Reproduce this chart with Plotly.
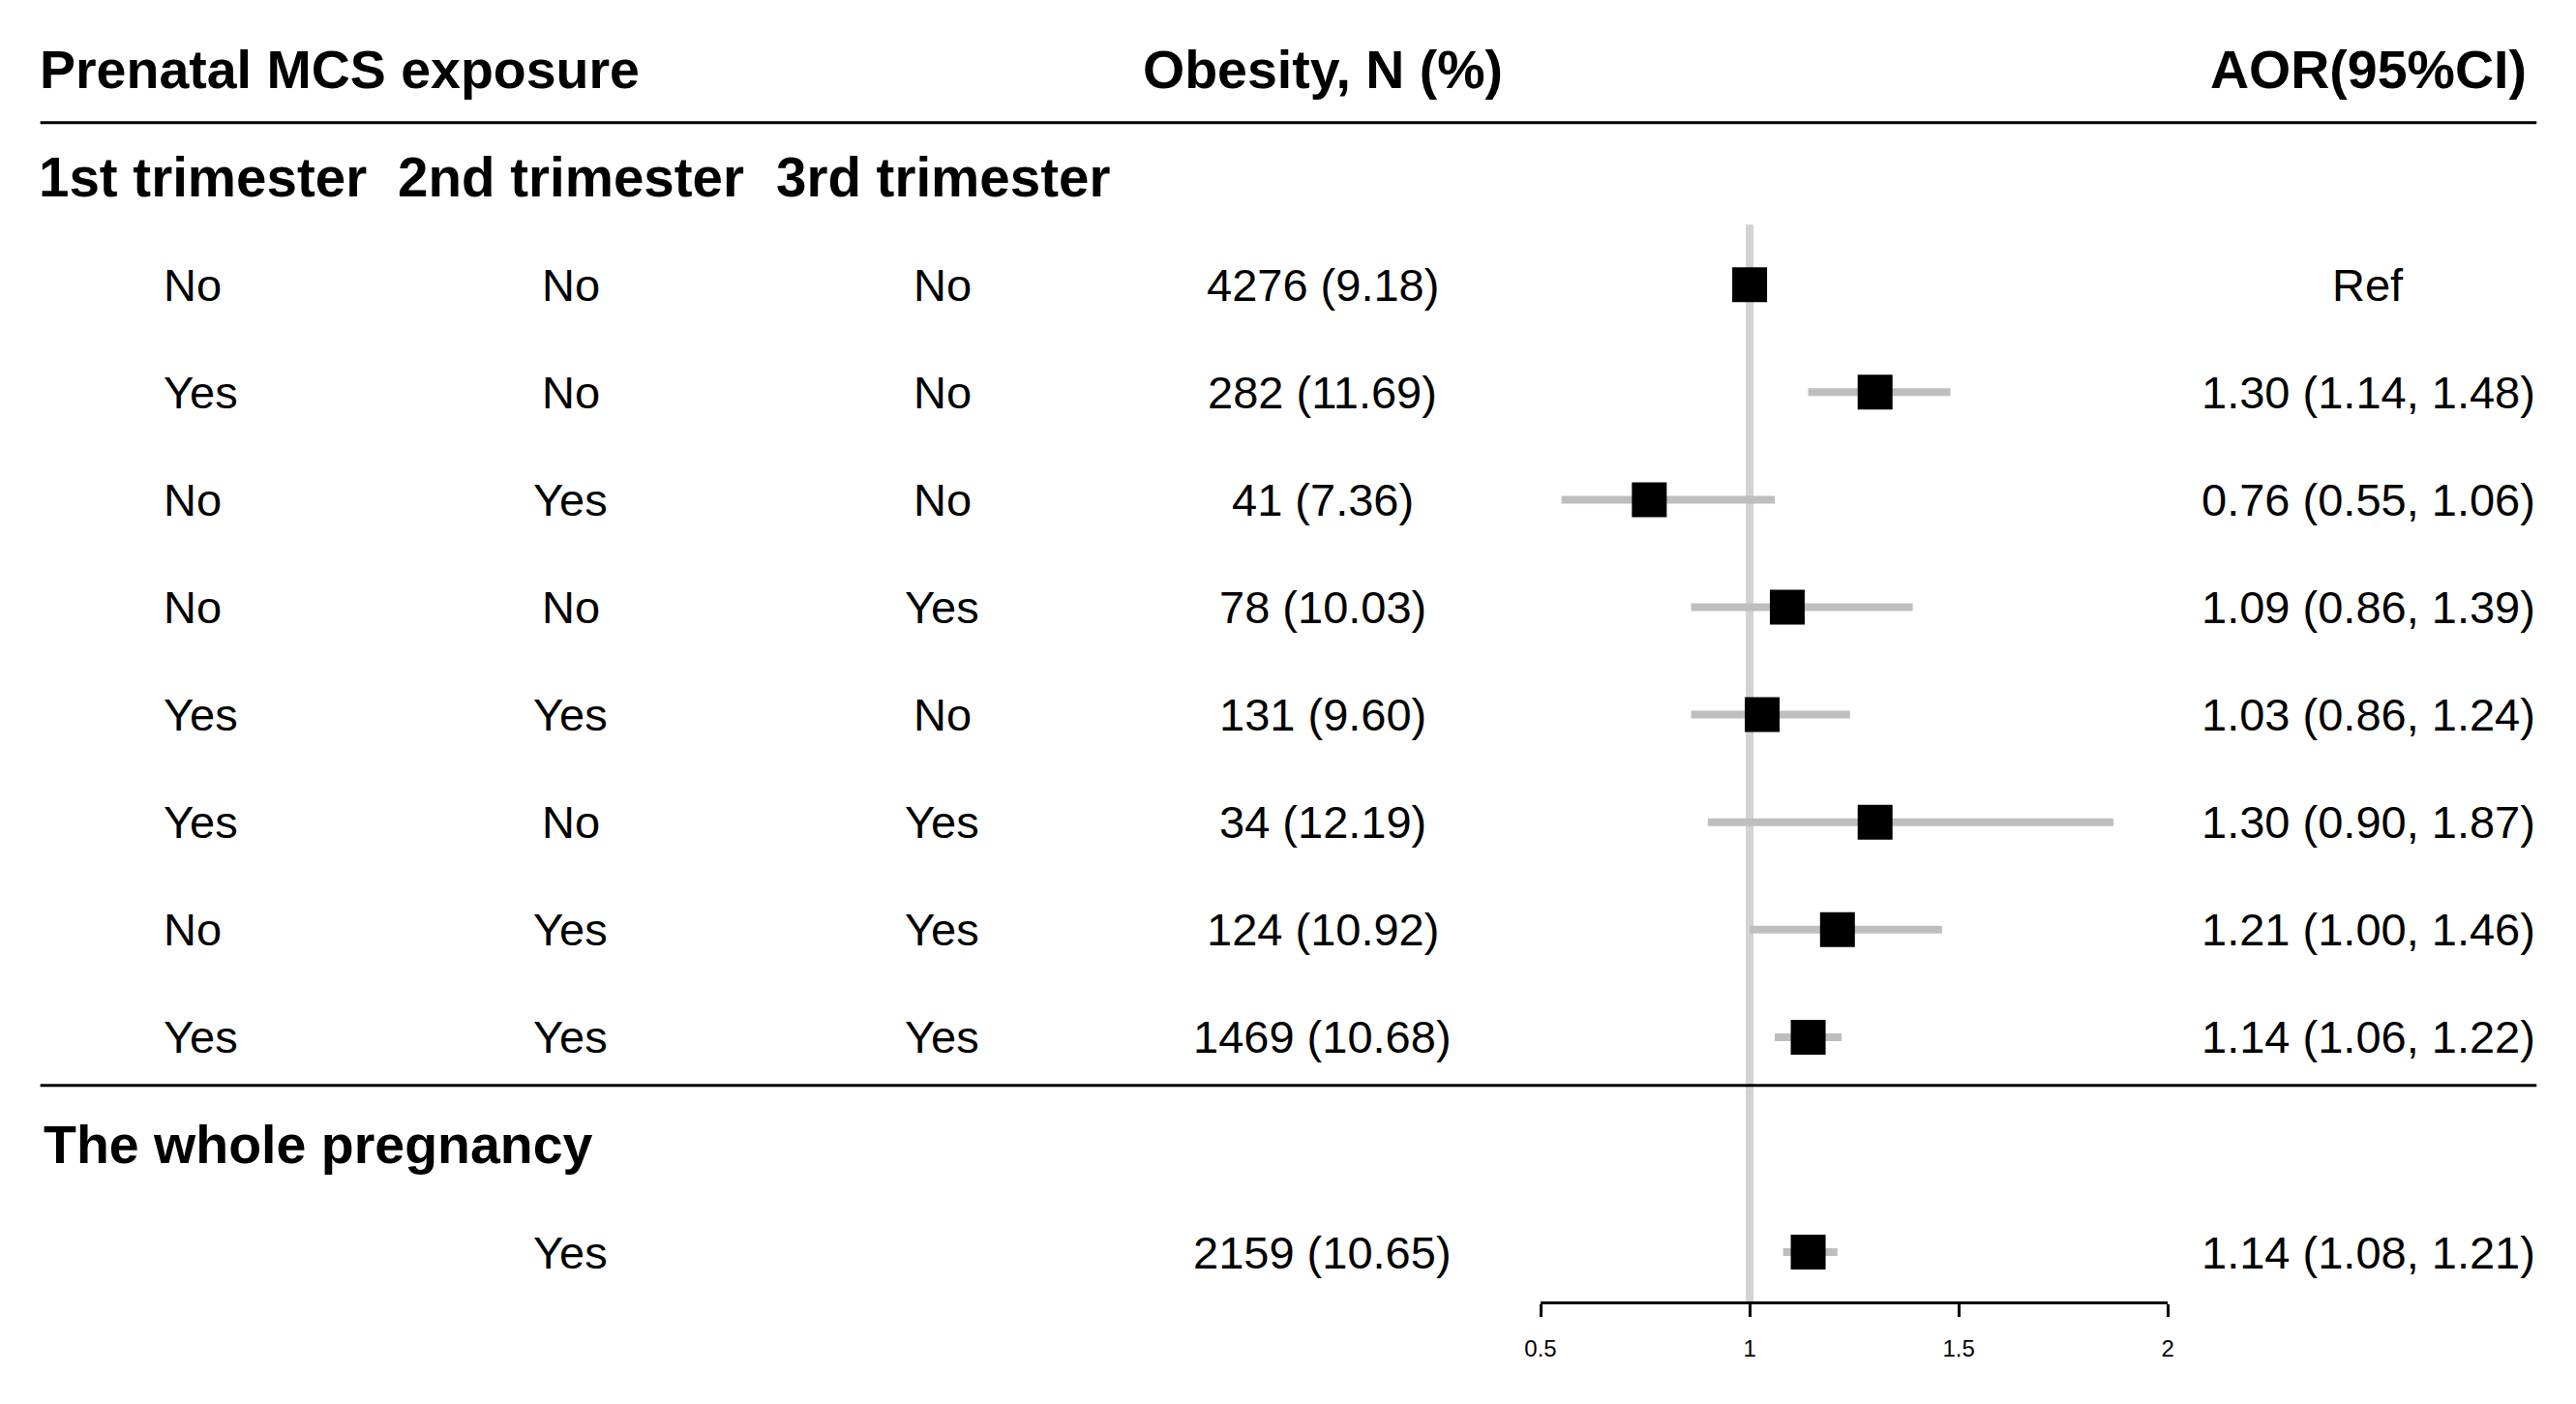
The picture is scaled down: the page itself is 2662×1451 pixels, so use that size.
import plotly.graph_objects as go

# ---------------- data ----------------
tri1 = ["No", "Yes", "No", "No", "Yes", "Yes", "No", "Yes"]
tri2 = ["No", "No", "Yes", "No", "Yes", "No", "Yes", "Yes"]
tri3 = ["No", "No", "No", "Yes", "No", "Yes", "Yes", "Yes"]
obesity = ["4276 (9.18)", "282 (11.69)", "41 (7.36)", "78 (10.03)",
           "131 (9.60)", "34 (12.19)", "124 (10.92)", "1469 (10.68)"]
aor = [1.00, 1.30, 0.76, 1.09, 1.03, 1.30, 1.21, 1.14]
aor_lo = [1.00, 1.14, 0.55, 0.86, 0.86, 0.90, 1.00, 1.06]
aor_hi = [1.00, 1.48, 1.06, 1.39, 1.24, 1.87, 1.46, 1.22]
is_ref = [True, False, False, False, False, False, False, False]

whole_label = "Yes"
whole_obesity = "2159 (10.65)"
whole_aor = 1.14
whole_lo = 1.08
whole_hi = 1.21

tick_vals = [0.5, 1, 1.5, 2]
tick_text = ["0.5", "1", "1.5", "2"]

headers = ["Prenatal MCS exposure", "Obesity, N (%)", "AOR(95%CI)"]
subheaders = ["1st trimester", "2nd trimester", "3rd trimester"]
group2_title = "The whole pregnancy"

# ---------------- layout constants ----------------
W, H = 2662, 1451
BODY_MARGIN = 8               # default <body> margin of the html page
FW, FH = W - 2 * BODY_MARGIN, H - 2 * BODY_MARGIN
FONT = "Liberation Sans, Arial, sans-serif"
BODY = 47
BOLD = 55.5
BOLD_SUB = 56.5


def px(x):
    """target page pixel -> paper fraction (small horizontal calibration)"""
    xc = 1.0094 * x - 16.6
    return (xc - BODY_MARGIN) / FW


# row grid (page pixels): header row centred at y=72, pitch 111.1
pitch = 111.1
y0 = 72.0
axis_px = 1345.0


def row_of(ypage):
    return (ypage - y0) / pitch


first_row = 2
rows = [first_row + i for i in range(len(aor))]
whole_title_row = first_row + len(aor)
whole_row = whole_title_row + 1

# columns (page pixels)
col1_left = 166
col2_c = 589
col3_c = 973
col4_c = 1366
col5_c = 2446

fig = go.Figure()

est_x = list(aor) + [whole_aor]
est_y = rows + [whole_row]
err_plus = [0 if r else h - a for a, h, r in zip(aor, aor_hi, is_ref)] + [whole_hi - whole_aor]
err_minus = [0 if r else a - l for a, l, r in zip(aor, aor_lo, is_ref)] + [whole_aor - whole_lo]

fig.add_trace(go.Scatter(
    x=est_x, y=est_y, mode="markers",
    marker=dict(symbol="square", size=36, color="black", line=dict(width=0)),
    error_x=dict(type="data", symmetric=False, array=err_plus, arrayminus=err_minus,
                 color="#bebebe", thickness=8, width=0),
    showlegend=False, hoverinfo="skip", cliponaxis=False,
))

annotations = []


def txt(x, y, s, size=BODY, bold=False, anchor="center"):
    annotations.append(dict(
        x=px(x), y=y, xref="paper", yref="y", text=("<b>%s</b>" % s) if bold else s,
        showarrow=False, xanchor=anchor, yanchor="middle",
        font=dict(family=FONT, size=size, color="black"),
    ))


txt(38, 0, headers[0], BOLD, True, "left")
txt(col4_c, 0, headers[1], BOLD, True, "center")
txt(col5_c, 0, headers[2], BOLD, True, "center")
txt(37, 1, subheaders[0], BOLD_SUB, True, "left")
txt(408, 1, subheaders[1], BOLD_SUB, True, "left")
txt(799, 1, subheaders[2], BOLD_SUB, True, "left")

for i, r in enumerate(rows):
    txt(col1_left, r, tri1[i], BODY, False, "left")
    txt(col2_c, r, tri2[i], BODY, False, "center")
    txt(col3_c, r, tri3[i], BODY, False, "center")
    txt(col4_c, r, obesity[i], BODY, False, "center")
    lab = "Ref" if is_ref[i] else "%.2f (%.2f, %.2f)" % (aor[i], aor_lo[i], aor_hi[i])
    txt(col5_c, r, lab, BODY, False, "center")

txt(42, whole_title_row, group2_title, BOLD, True, "left")
txt(col2_c, whole_row, whole_label, BODY, False, "center")
txt(col4_c, whole_row, whole_obesity, BODY, False, "center")
txt(col5_c, whole_row, "%.2f (%.2f, %.2f)" % (whole_aor, whole_lo, whole_hi), BODY, False, "center")

y_top = row_of(BODY_MARGIN)
y_bot = row_of(axis_px)

shapes = [
    dict(type="line", xref="paper", yref="y", x0=px(41), x1=px(2620),
         y0=row_of(126.7), y1=row_of(126.7), line=dict(color="black", width=3)),
    dict(type="line", xref="paper", yref="y", x0=px(41), x1=px(2620),
         y0=row_of(1121.7), y1=row_of(1121.7), line=dict(color="black", width=3)),
    dict(type="line", xref="x", yref="y", x0=1, x1=1,
         y0=row_of(232), y1=y_bot, layer="below",
         line=dict(color="#d3d3d3", width=8)),
]

fig.update_layout(
    width=FW, height=FH,
    margin=dict(l=0, r=0, t=0, b=0),
    paper_bgcolor="white", plot_bgcolor="rgba(0,0,0,0)",
    showlegend=False,
    annotations=annotations,
    shapes=shapes,
    xaxis=dict(
        domain=[px(1591), px(2239)], range=[0.5, 2],
        tickvals=tick_vals, ticktext=tick_text,
        showline=True, linecolor="black", linewidth=3,
        ticks="outside", ticklen=13, tickwidth=3, tickcolor="black",
        tickfont=dict(family=FONT, size=24, color="black"),
        ticklabelstandoff=12,
        showgrid=False, zeroline=False, fixedrange=True,
    ),
    yaxis=dict(
        domain=[(FH - (axis_px - BODY_MARGIN)) / FH, 1], range=[y_bot, y_top],
        visible=False, showgrid=False, zeroline=False, fixedrange=True,
    ),
)

fig.write_html("out.html")
